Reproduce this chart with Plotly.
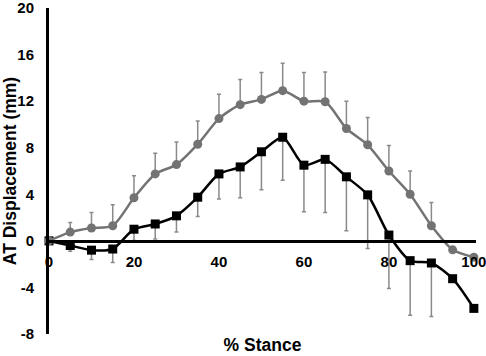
import plotly.graph_objects as go

stance = [0, 5, 10, 15, 20, 25, 30, 35, 40, 45, 50, 55, 60, 65, 70, 75, 80, 85, 90, 95, 100]

gray_mean = [0, 0.75, 1.1, 1.3, 3.7, 5.75, 6.55, 8.3, 10.5, 11.7, 12.15, 12.9, 12.0, 11.95,
             9.65, 8.25, 6.0, 4.0, 1.3, -0.77, -1.4]
gray_err_up = [0, 0.82, 1.33, 1.8, 1.9, 1.78, 1.95, 2.0, 2.1, 2.15, 2.3, 2.35, 2.45, 2.55,
               2.35, 2.35, 2.2, 2.0, 2.0, 0, 0]

black_mean = [0, -0.4, -0.8, -0.7, 1.0, 1.45, 2.15, 3.75, 5.75, 6.35, 7.65, 8.9, 6.5, 7.0,
              5.5, 3.95, 0.5, -1.7, -1.9, -3.25, -5.8]
black_err_down = [0, 0.5, 0.8, 1.15, 0.97, 1.3, 1.38, 1.65, 2.15, 2.65, 3.27, 3.7, 4.0, 4.57,
                  4.64, 4.61, 4.6, 4.7, 4.6, 0, 0]

x_ticks = [0, 20, 40, 60, 80, 100]
y_ticks = [-8, -4, 0, 4, 8, 12, 16, 20]
y_range = [-8, 20]

zeros = [0] * len(stance)
font = "Liberation Sans"

fig = go.Figure()
fig.add_trace(go.Scatter(
    x=stance, y=black_mean, mode="lines+markers",
    line=dict(color="black", width=2.5, shape="spline", smoothing=0.7),
    marker=dict(symbol="square", size=9, color="black"),
    error_y=dict(type="data", symmetric=False, array=zeros, arrayminus=black_err_down,
                 color="#8a8a8a", thickness=1.5, width=2),
    cliponaxis=False, showlegend=False))
fig.add_trace(go.Scatter(
    x=stance, y=gray_mean, mode="lines+markers",
    line=dict(color="#737373", width=2.5, shape="spline", smoothing=0.7),
    marker=dict(symbol="circle", size=9, color="#737373"),
    error_y=dict(type="data", symmetric=False, array=gray_err_up, arrayminus=zeros,
                 color="#8a8a8a", thickness=1.5, width=2),
    cliponaxis=False, showlegend=False))

fig.update_layout(
    width=486, height=356,
    margin=dict(l=49, r=10, t=8, b=22, autoexpand=False),
    paper_bgcolor="white", plot_bgcolor="white",
    font=dict(family=font, size=15, color="black"),
    xaxis=dict(range=[0, 100.5], anchor="free", automargin=False,
               position=(0 - y_range[0]) / (y_range[1] - y_range[0]),
               showline=True, linecolor="black", linewidth=3,
               tickvals=x_ticks, ticktext=[f"<b>{v}</b>" for v in x_ticks],
               ticks="", ticklabelstandoff=6, ticklabeloverflow="allow",
               tickfont=dict(family=font, size=15, color="black"),
               showgrid=False, zeroline=False,
               title=dict(text="<b>% Stance</b>", standoff=69,
                          font=dict(family=font, size=17.5, color="black"))),
    yaxis=dict(range=y_range, showline=True, linecolor="black", linewidth=3,
               automargin=False,
               tickvals=y_ticks, ticktext=[f"<b>{v}</b>" for v in y_ticks],
               ticks="", ticklabelstandoff=9, ticklabeloverflow="allow",
               tickfont=dict(family=font, size=15, color="black"),
               showgrid=False, zeroline=False,
               title=dict(text="<b>AT Displacement (mm)</b>", standoff=1,
                          font=dict(family=font, size=17.5, color="black"))),
)

fig.write_html("out.html", config={"displayModeBar": False},
               post_script="document.body.style.margin='0';")
